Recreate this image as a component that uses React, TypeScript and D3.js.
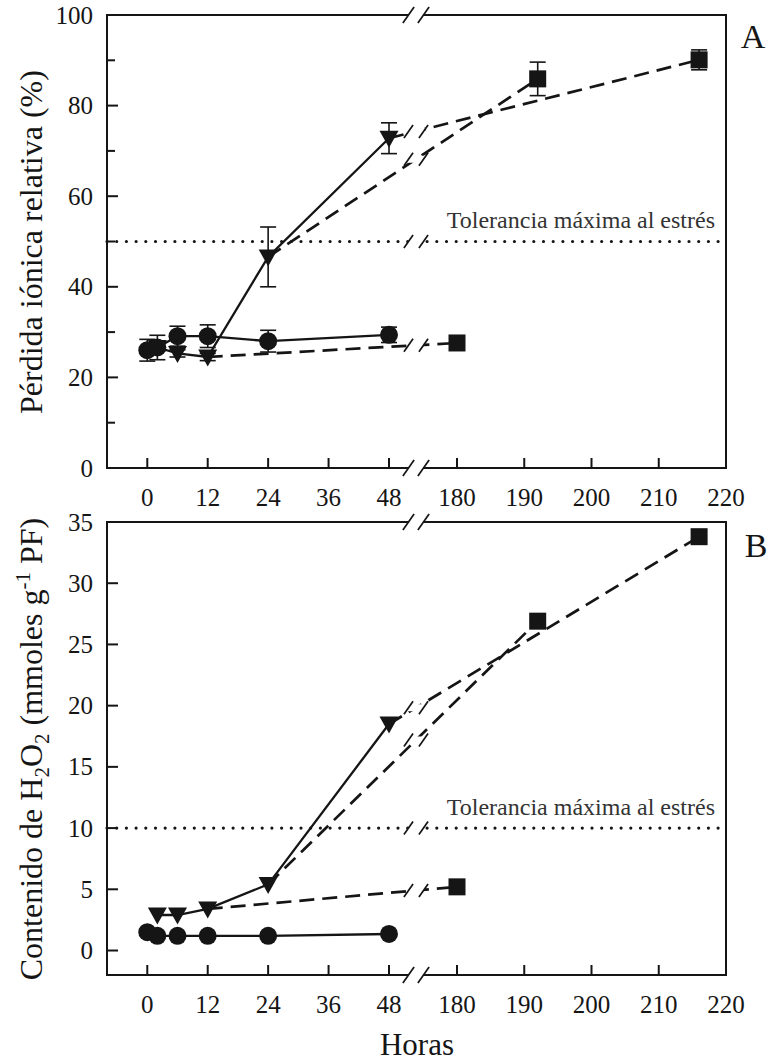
import React, { useRef, useEffect } from 'react';
import * as d3 from 'd3';

// horas de muestreo
const hoursControl = [0, 2, 6, 12, 24, 48];
const hoursStress = [2, 6, 12, 24, 48];
const recoveryFrom = [12, 24, 48];
const hoursRecovery = [180, 192, 216];

// A: perdida ionica relativa (%)
const ionControl = [26.0, 26.6, 29.1, 29.1, 28.0, 29.4];
const ionControlErr = [2.4, 2.7, 2.2, 2.5, 2.4, 1.7];
const ionStress = [26.6, 25.3, 24.5, 46.6, 72.8];
const ionStressErr = [0.8, 0.8, 0.8, 6.6, 3.4];
const ionRecovery = [27.6, 85.9, 90.1];
const ionRecoveryErr = [0.6, 3.7, 2.2];

// B: contenido de H2O2
const h2o2Control = [1.5, 1.2, 1.2, 1.2, 1.2, 1.35];
const h2o2Stress = [2.9, 2.9, 3.4, 5.4, 18.5];
const h2o2Recovery = [5.2, 26.9, 33.8];

const xTicks = [0, 12, 24, 36, 48, 180, 190, 200, 210, 220];
const yTicksA = [0, 20, 40, 60, 80, 100];
const yMinorA = [10, 30, 50, 70, 90];
const yTicksB = [0, 5, 10, 15, 20, 25, 30, 35];
const toleranceA = 50;
const toleranceB = 10;
const toleranceText = 'Tolerancia máxima al estrés';

const W = 773;
const H = 1061;

const App = () => {
  const svgRef = useRef<SVGSVGElement>(null);

  useEffect(() => {
    document.body.style.margin = '0';
    const svg = d3.select(svgRef.current);
    svg.selectAll('*').remove();

    const font = '"Liberation Serif", "Times New Roman", serif';
    const ink = '#151515';
    const left = 107;
    const right = 726;
    const breakX = 416;

    // eje x partido: 48 -> 180
    const x = d3.scaleLinear().domain([-8, 48, 180, 220]).range([left, 389, 457, right]);

    const breakMark = (g, cy, h) => {
      const dx = h * 0.7;
      const gap = 3.5;
      const gdx = (dx * gap) / h;
      g.append('path')
        .attr('d', `M${breakX - 7.5 - gdx},${cy + gap} L${breakX - 7.5 + gdx},${cy - gap} L${breakX + 7.5 + gdx},${cy - gap} L${breakX + 7.5 - gdx},${cy + gap} Z`)
        .attr('fill', 'white');
      [-7.5, 7.5].forEach(o => {
        g.append('line')
          .attr('x1', breakX + o - dx).attr('y1', cy + h)
          .attr('x2', breakX + o + dx).attr('y2', cy - h)
          .attr('stroke', ink).attr('stroke-width', 1.7);
      });
    };

    const drawPanel = (cfg) => {
      const { top, bottom, yDomain, yTicks, yMinor, ctrl, ctrlErr, stress, stressErr, rec, recErr, tol } = cfg;
      const y = d3.scaleLinear().domain(yDomain).range([bottom, top]);
      const g = svg.append('g');

      // linea de tolerancia
      g.append('line')
        .attr('x1', left).attr('x2', right)
        .attr('y1', y(tol)).attr('y2', y(tol))
        .attr('stroke', ink).attr('stroke-width', 3.2)
        .attr('stroke-linecap', 'round')
        .attr('stroke-dasharray', '0,9.7');
      g.append('text')
        .attr('x', 715).attr('y', y(tol) - 13.5)
        .attr('text-anchor', 'end')
        .style('font-family', font).style('font-size', '24px').style('fill', '#333')
        .text(toleranceText);

      // recuperacion (discontinua)
      const recLines = recoveryFrom.map((h, i) => {
        const x0 = x(h), y0 = y(stress[hoursStress.indexOf(h)]);
        const x1 = x(hoursRecovery[i]), y1 = y(rec[i]);
        return { x0, y0, x1, y1 };
      });
      recLines.forEach(l => {
        g.append('line')
          .attr('x1', l.x0).attr('y1', l.y0).attr('x2', l.x1).attr('y2', l.y1)
          .attr('stroke', ink).attr('stroke-width', 2.7)
          .attr('stroke-dasharray', '15,8');
      });

      const ctrlLine = d3.line<number>().x(d => x(d)).y((d, i) => y(ctrl[i]));
      const stressLine = d3.line<number>().x(d => x(d)).y((d, i) => y(stress[i]));
      g.append('path').attr('d', ctrlLine(hoursControl))
        .attr('fill', 'none').attr('stroke', ink).attr('stroke-width', 2.3);
      g.append('path').attr('d', stressLine(hoursStress))
        .attr('fill', 'none').attr('stroke', ink).attr('stroke-width', 2.3);

      // barras de error
      const errBar = (xx, v, e) => {
        if (!e) return;
        const y0 = y(v - e), y1 = y(v + e);
        g.append('line').attr('x1', xx).attr('x2', xx).attr('y1', y0).attr('y2', y1)
          .attr('stroke', ink).attr('stroke-width', 1.6);
        [y0, y1].forEach(yy => g.append('line')
          .attr('x1', xx - 8).attr('x2', xx + 8).attr('y1', yy).attr('y2', yy)
          .attr('stroke', ink).attr('stroke-width', 1.6));
      };
      if (ctrlErr) hoursControl.forEach((h, i) => errBar(x(h), ctrl[i], ctrlErr[i]));
      if (stressErr) hoursStress.forEach((h, i) => errBar(x(h), stress[i], stressErr[i]));
      if (recErr) hoursRecovery.forEach((h, i) => errBar(x(h), rec[i], recErr[i]));

      // marcadores
      hoursStress.forEach((h, i) => {
        const cx = x(h), cy = y(stress[i]);
        g.append('path')
          .attr('d', `M${cx - 9.5},${cy - 7.5} L${cx + 9.5},${cy - 7.5} L${cx},${cy + 9.5} Z`)
          .attr('fill', ink);
      });
      hoursControl.forEach((h, i) => {
        g.append('circle').attr('cx', x(h)).attr('cy', y(ctrl[i])).attr('r', 9).attr('fill', ink);
      });
      hoursRecovery.forEach((h, i) => {
        g.append('rect').attr('x', x(h) - 8.5).attr('y', y(rec[i]) - 8.5)
          .attr('width', 17).attr('height', 17).attr('fill', ink);
      });

      // marco
      g.append('rect').attr('x', left).attr('y', top)
        .attr('width', right - left).attr('height', bottom - top)
        .attr('fill', 'none').attr('stroke', ink).attr('stroke-width', 2);

      // cortes del eje
      recLines.forEach(l => {
        const cy = l.y0 + ((breakX - l.x0) * (l.y1 - l.y0)) / (l.x1 - l.x0);
        breakMark(g, cy, 6.5);
      });
      breakMark(g, y(tol), 6.5);
      breakMark(g, top, 8);
      breakMark(g, bottom, 8);

      // ticks y
      yTicks.forEach(t => {
        g.append('line').attr('x1', left).attr('x2', left + 11)
          .attr('y1', y(t)).attr('y2', y(t)).attr('stroke', ink).attr('stroke-width', 2);
        g.append('text').attr('x', 93).attr('y', y(t) + 8.5)
          .attr('text-anchor', 'end')
          .style('font-family', font).style('font-size', '25px').style('fill', ink)
          .text(t);
      });
      (yMinor || []).forEach(t => {
        g.append('line').attr('x1', left).attr('x2', left + 8)
          .attr('y1', y(t)).attr('y2', y(t)).attr('stroke', ink).attr('stroke-width', 2);
      });

      // ticks x
      xTicks.forEach(t => {
        g.append('line').attr('x1', x(t)).attr('x2', x(t))
          .attr('y1', bottom).attr('y2', bottom - 10).attr('stroke', ink).attr('stroke-width', 2);
        g.append('text').attr('x', x(t)).attr('y', bottom + 38)
          .attr('text-anchor', 'middle')
          .style('font-family', font).style('font-size', '25px').style('fill', ink)
          .text(t);
      });

      g.append('text').attr('x', cfg.letterX).attr('y', cfg.letterY)
        .attr('text-anchor', 'middle')
        .style('font-family', font).style('font-size', '34px').style('fill', ink)
        .text(cfg.letter);

      // titulo eje y
      const title = g.append('text')
        .attr('transform', `translate(42,${cfg.titleY}) rotate(-90)`)
        .attr('text-anchor', 'middle')
        .style('font-family', font).style('font-size', '32px').style('fill', ink);
      let shift = 0;
      cfg.title.forEach(p => {
        const ts = title.append('tspan').text(p.t);
        const target = p.sub ? 7 : p.sup ? -12 : 0;
        if (target !== shift) ts.attr('dy', target - shift);
        shift = target;
        if (p.sub || p.sup) ts.style('font-size', '21px');
      });

      return y;
    };

    drawPanel({
      top: 15, bottom: 468, yDomain: [0, 100], yTicks: yTicksA, yMinor: yMinorA,
      ctrl: ionControl, ctrlErr: ionControlErr, stress: ionStress, stressErr: ionStressErr,
      rec: ionRecovery, recErr: ionRecoveryErr, tol: toleranceA,
      letter: 'A', letterX: 753, letterY: 48, titleY: 242,
      title: [{ t: 'Pérdida iónica relativa (%)' }],
    });

    drawPanel({
      top: 522, bottom: 975, yDomain: [-2, 35], yTicks: yTicksB, yMinor: null,
      ctrl: h2o2Control, ctrlErr: null, stress: h2o2Stress, stressErr: null,
      rec: h2o2Recovery, recErr: null, tol: toleranceB,
      letter: 'B', letterX: 756, letterY: 557, titleY: 749,
      title: [
        { t: 'Contenido de H' }, { t: '2', sub: true }, { t: 'O' }, { t: '2', sub: true },
        { t: ' (mmoles g' }, { t: '-1', sup: true }, { t: ' PF)' },
      ],
    });

    svg.append('text').attr('x', 417).attr('y', 1055)
      .attr('text-anchor', 'middle')
      .style('font-family', font).style('font-size', '31px').style('fill', ink)
      .text('Horas');
  }, []);

  return <svg ref={svgRef} width={W} height={H} style={{ display: 'block', background: 'white' }} />;
};

export default App;
